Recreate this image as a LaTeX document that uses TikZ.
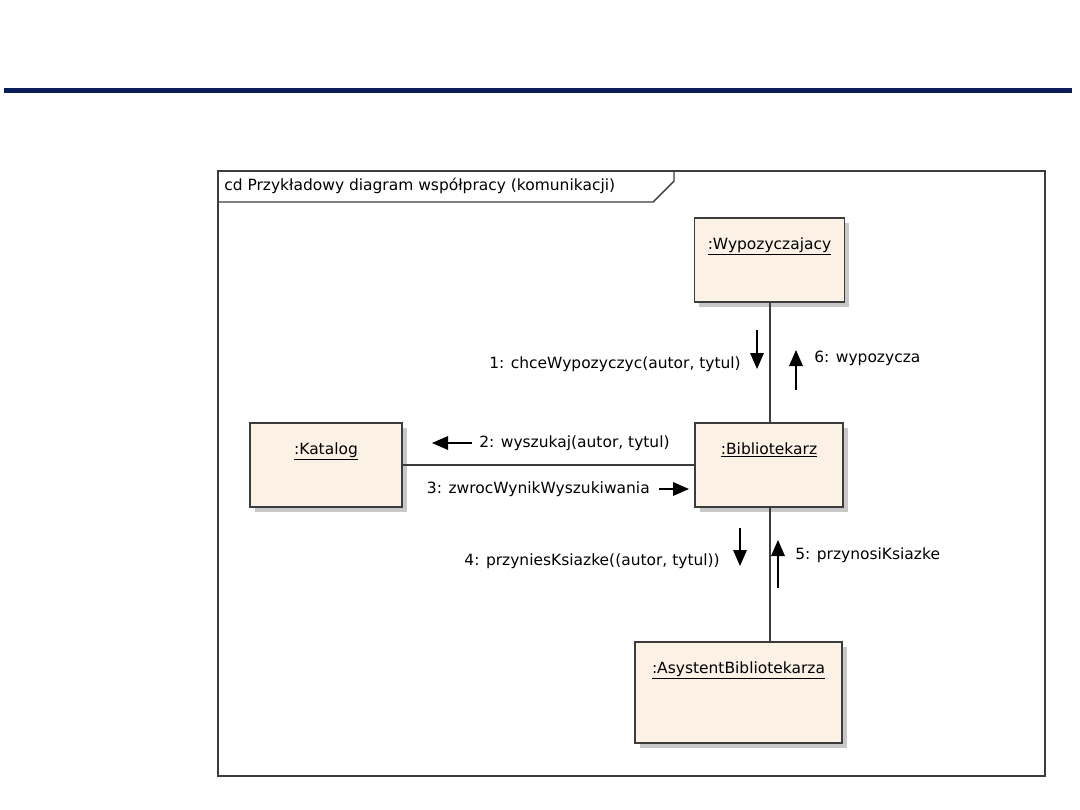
\documentclass[tikz,border=0pt]{standalone}
\usepackage{fontspec}
\setmainfont{DejaVu Sans}
\usepackage{tikz}
\usetikzlibrary{arrows.meta, positioning, shadows}
\definecolor{headblue}{RGB}{12,30,90}
\definecolor{objfill}{RGB}{251,241,228}
\definecolor{framegray}{RGB}{60,60,60}
\definecolor{shadowgray}{RGB}{200,200,200}

\tikzset{
  obj/.style={draw=framegray, line width=1.1pt, fill=objfill, inner sep=0pt,
              drop shadow={shadow xshift=0.12cm, shadow yshift=-0.12cm,
                           fill=shadowgray, opacity=1}},
  objlbl/.style={inner sep=0pt, font=\fontsize{11}{13}\selectfont},
  msglbl/.style={inner sep=0pt, font=\fontsize{11}{13}\selectfont},
  link/.style={draw=framegray, line width=0.9pt},
  msg/.style={line width=1pt, -{Triangle[width=0.34cm, length=0.4cm]}}
}

\begin{document}
\begin{tikzpicture}[x=0.025cm, y=-0.025cm]
  \useasboundingbox (0,0) rectangle (1080,810);

  % Heading rule
  \draw[headblue, line width=2.9pt] (4,90.5) -- (1072,90.5);

  % Frame with title tab
  \draw[framegray, line width=1pt] (218,171) rectangle (1045,776);
  \draw[framegray, line width=1pt] (218,202) -- (653,202) -- (674,181) -- (674,171);
  \node[msglbl, anchor=west] (title) at (224,186)
    {cd Przykładowy diagram współpracy (komunikacji)};

  % Objects
  \node[obj, minimum width=3.75cm, minimum height=2.1cm] (wyp) at (769.5,260) {};
  \node[obj, minimum width=3.8cm, minimum height=2.1cm] (kat) at (326,465) {};
  \node[obj, minimum width=3.7cm, minimum height=2.1cm] (bib) at (769,465) {};
  \node[obj, minimum width=5.175cm, minimum height=2.525cm] (asy) at (738.5,692.5) {};

  \node[objlbl, below=0.5cm of wyp.north] (wyp-lbl) {\underline{:Wypozyczajacy}};
  \node[objlbl, below=0.5cm of kat.north] (kat-lbl) {\underline{:Katalog}};
  \node[objlbl, below=0.5cm of bib.north] (bib-lbl) {\underline{:Bibliotekarz}};
  \node[objlbl, below=0.5cm of asy.north] (asy-lbl) {\underline{:AsystentBibliotekarza}};

  % Links
  \draw[link] (wyp.south -| 770,0) -- (bib.north -| 770,0);
  \draw[link] (kat.east) -- (bib.west);
  \draw[link] (bib.south -| 770,0) -- (asy.north -| 770,0);

  % Messages
  \coordinate (m1a) at (757,330);  \coordinate (m1b) at (757,369);
  \coordinate (m6a) at (796,390);  \coordinate (m6b) at (796,350);
  \coordinate (m2a) at (472,443);  \coordinate (m2b) at (432,443);
  \coordinate (m3a) at (659,489);  \coordinate (m3b) at (689,489);
  \coordinate (m4a) at (740,528);  \coordinate (m4b) at (740,566);
  \coordinate (m5a) at (778,588);  \coordinate (m5b) at (778,540);
  \draw[msg] (m1a) -- (m1b);
  \draw[msg] (m6a) -- (m6b);
  \draw[msg] (m2a) -- (m2b);
  \draw[msg] (m3a) -- (m3b);
  \draw[msg] (m4a) -- (m4b);
  \draw[msg] (m5a) -- (m5b);

  \node[msglbl, anchor=east] (m1) at (741,364) {1: chceWypozyczyc(autor, tytul)};
  \node[msglbl, anchor=west] (m6) at (814,358) {6: wypozycza};
  \node[msglbl, anchor=west] (m2) at (479,443) {2: wyszukaj(autor, tytul)};
  \node[msglbl, anchor=east] (m3) at (650,489) {3: zwrocWynikWyszukiwania};
  \node[msglbl, anchor=east] (m4) at (720,561) {4: przyniesKsiazke((autor, tytul))};
  \node[msglbl, anchor=west] (m5) at (795,555) {5: przynosiKsiazke};
\end{tikzpicture}
\end{document}
